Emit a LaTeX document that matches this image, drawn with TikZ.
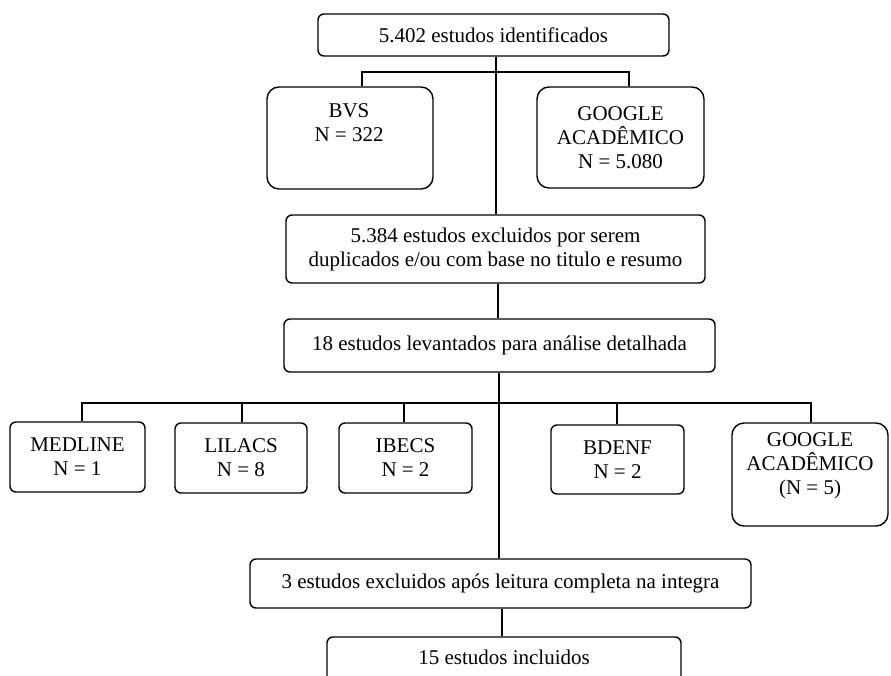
\documentclass[tikz,border=0pt]{standalone}
\usepackage{fontspec}
\setmainfont{Liberation Serif}
\begin{document}
\begin{tikzpicture}[x=1pt,y=-1pt,
  box/.style={draw, line width=1.4pt, rounded corners=6pt, inner sep=0pt, align=center, font=\fontsize{21}{24}\selectfont},
  tallbox/.style={box, rounded corners=12pt},
  txt/.style={align=center, inner sep=0pt, font=\fontsize{21}{24}\selectfont},
  conn/.style={line width=1.4pt}]
\clip (0,0) rectangle (891,675);
\fill[white] (0,0) rectangle (891,675);
% boxes
\node[box, minimum width=351pt, minimum height=42pt] (top) at (493.5,35) {5.402 estudos identificados};
\node[tallbox, minimum width=166pt, minimum height=102pt] (bvs) at (350,138) {};
\node[txt] (bvst) at (349,123) {BVS\\N = 322};
\node[tallbox, minimum width=167pt, minimum height=101pt] (gs1) at (620.5,137.5) {GOOGLE\\ACADÊMICO\\N = 5.080};
\node[box, minimum width=419pt, minimum height=68pt] (excl) at (495.5,249) {5.384 estudos excluidos por serem\\duplicados e/ou com base no titulo e resumo};
\node[box, minimum width=431pt, minimum height=53pt] (eighteen) at (499.5,345.5) {18 estudos levantados para análise detalhada};
\node[box, minimum width=135pt, minimum height=70pt] (medline) at (77.5,457) {MEDLINE\\N = 1};
\node[box, minimum width=132pt, minimum height=70pt] (lilacs) at (241,458) {LILACS\\N = 8};
\node[box, minimum width=133pt, minimum height=70pt] (ibecs) at (405.5,458) {IBECS\\N = 2};
\node[box, minimum width=133pt, minimum height=69pt] (bdenf) at (617.5,459.5) {BDENF\\N = 2};
\node[tallbox, minimum width=156pt, minimum height=103pt] (gs2) at (810,474.5) {};
\node[txt] (gs2t) at (810,466) {GOOGLE\\ACADÊMICO\\(N = 5)};
\node[box, minimum width=501pt, minimum height=49pt] (three) at (500.5,583.5) {3 estudos excluidos após leitura completa na integra};
\node[box, minimum width=354pt, minimum height=62pt] (fifteen) at (504,668) {};
\node[txt] (fifteent) at (504,657) {15 estudos incluidos};
% junction coordinates
\coordinate (j1) at (496,72);
\coordinate (t2) at (498,0);
\coordinate (j2) at (499,403);
\coordinate (t3) at (502,0);
\coordinate (xm) at (82,0);
\coordinate (xl) at (242,0);
\coordinate (xi) at (404,0);
\coordinate (xb) at (617,0);
\coordinate (xg) at (811,0);
\coordinate (xv) at (362,0);
\coordinate (xs) at (629,0);
% connectors
\draw[conn] (top.south -| j1) -- (excl.north -| j1);
\draw[conn] (bvs.north -| xv) |- (j1) -| (gs1.north -| xs);
\draw[conn] (excl.south -| t2) -- (eighteen.north -| t2);
\draw[conn] (eighteen.south -| j2) -- (three.north -| j2);
\draw[conn] (medline.north -| xm) |- (j2) -| (gs2.north -| xg);
\draw[conn] (lilacs.north -| xl) -- (xl |- j2);
\draw[conn] (ibecs.north -| xi) -- (xi |- j2);
\draw[conn] (bdenf.north -| xb) -- (xb |- j2);
\draw[conn] (three.south -| t3) -- (fifteen.north -| t3);
\end{tikzpicture}
\end{document}
